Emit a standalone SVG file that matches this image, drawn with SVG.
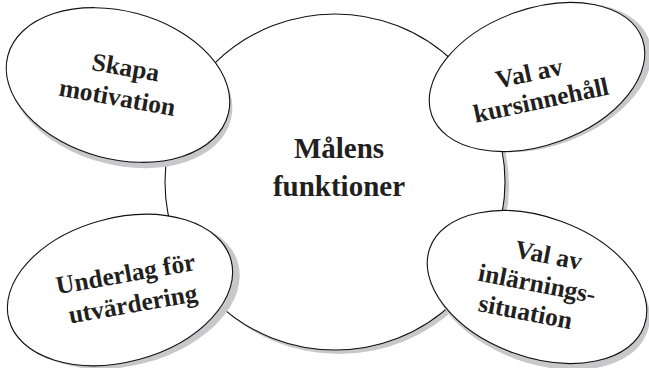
<svg xmlns="http://www.w3.org/2000/svg" width="649" height="368" viewBox="0 0 649 368">
<style>
.sh{fill:#c8c8ca;stroke:none}
.el{fill:#fff;stroke:#111;stroke-width:1.1}
.t{font-family:"Liberation Serif","Times New Roman",serif;font-weight:bold;fill:#231f20;text-anchor:middle}
.s{font-size:25.5px}
.c{font-size:29px}
</style>
<rect width="649" height="368" fill="#fff"/>
<g id="center">
<ellipse class="sh" cx="339" cy="186" rx="170" ry="168"/>
<ellipse class="el" cx="335" cy="182" rx="170" ry="168"/>
<text class="t c" x="339" y="158">Målens</text>
<text class="t c" x="339" y="196">funktioner</text>
</g>
<g id="skapa">
<g transform="translate(118,85) rotate(15)">
<ellipse class="sh" cx="4" cy="5" rx="114" ry="74"/>
<ellipse class="el" cx="0" cy="0" rx="114" ry="74"/>
</g>
<g transform="translate(120,82) rotate(10)">
<text class="t s" x="3" y="-7">Skapa</text>
<text class="t s" x="0" y="24">motivation</text>
</g>
</g>
<g id="kursinnehall">
<g transform="translate(537,77) rotate(-20)">
<ellipse class="sh" cx="6" cy="3" rx="112" ry="68"/>
<ellipse class="el" cx="0" cy="0" rx="112" ry="68"/>
</g>
<g transform="translate(538,86) rotate(-12)">
<text class="t s" x="-6" y="-6">Val av</text>
<text class="t s" x="0" y="23">kursinnehåll</text>
</g>
</g>
<g id="underlag">
<g transform="translate(120,290) rotate(-15)">
<ellipse class="sh" cx="6" cy="5" rx="115" ry="72"/>
<ellipse class="el" cx="0" cy="0" rx="115" ry="72"/>
</g>
<g transform="translate(128,288) rotate(-10)">
<text class="t s" x="0" y="-6">Underlag för</text>
<text class="t s" x="2" y="25">utvärdering</text>
</g>
</g>
<g id="inlarning">
<g transform="translate(537,287) rotate(20)">
<ellipse class="sh" cx="5" cy="5" rx="114" ry="70"/>
<ellipse class="el" cx="0" cy="0" rx="114" ry="70"/>
</g>
<g transform="translate(537,284) rotate(11)">
<text class="t s" x="6" y="-22">Val av</text>
<text class="t s" x="0" y="8">inlärnings-</text>
<text class="t s" x="-6" y="38">situation</text>
</g>
</g>
<g id="connectors"></g>
</svg>
